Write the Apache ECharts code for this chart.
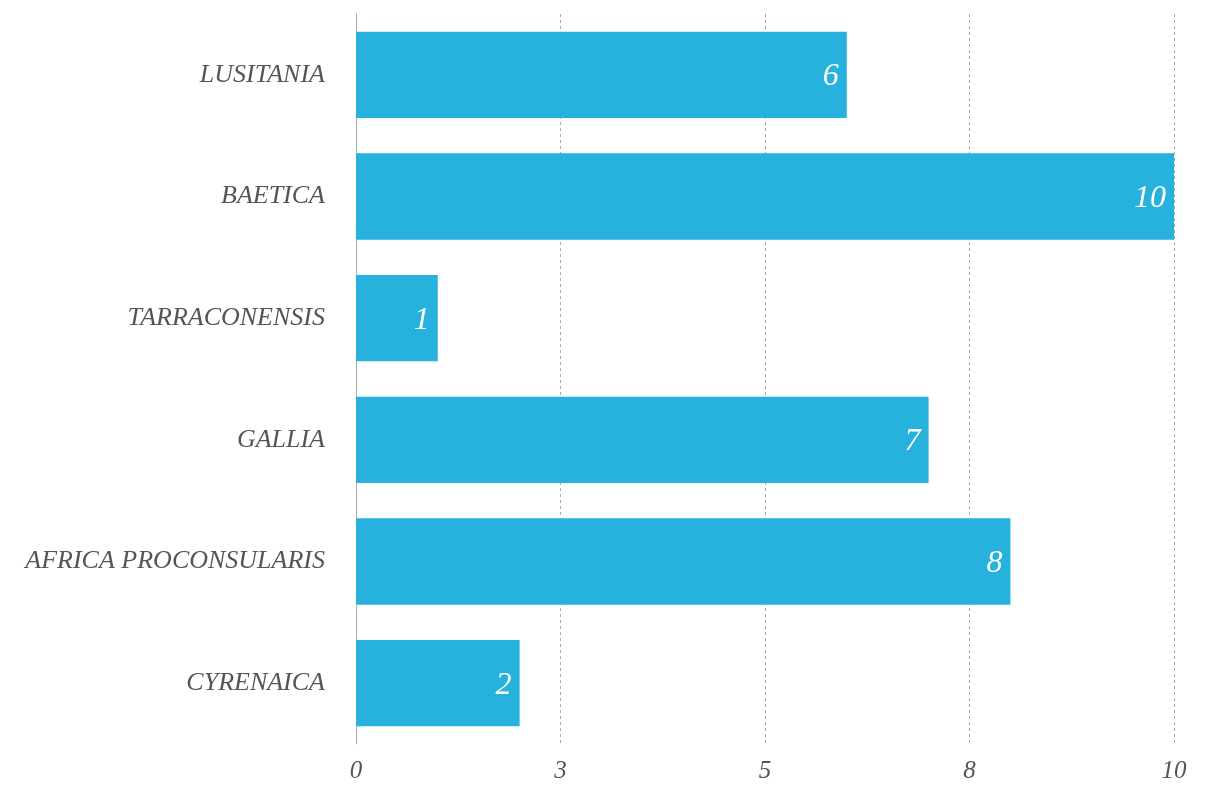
<!DOCTYPE html>
<html>
<head>
<meta charset="utf-8">
<title>Provinces</title>
<script src="https://cdn.jsdelivr.net/npm/echarts@6/dist/echarts.min.js"></script>
<style>
  html, body { margin: 0; padding: 0; background: #ffffff; }
  #chart { width: 1215px; height: 787px; }
</style>
</head>
<body>
<div id="chart"></div>
<script>
// Provinces, top to bottom
const provinces = ['LUSITANIA', 'BAETICA', 'TARRACONENSIS', 'GALLIA', 'AFRICA PROCONSULARIS', 'CYRENAICA'];
const counts = [6, 10, 1, 7, 8, 2];
// Value-axis tick labels (ticks every 2.5, shown rounded)
const tickLabels = ['0', '3', '5', '8', '10'];

const serif = 'Liberation Serif';
const chart = echarts.init(document.getElementById('chart'), null, { renderer: 'canvas' });

chart.setOption({
  backgroundColor: '#ffffff',
  animation: false,
  grid: { left: 356, right: 41, top: 14, bottom: 43, containLabel: false },
  xAxis: {
    type: 'value',
    min: 0,
    max: 10,
    interval: 2.5,
    axisLine: { show: false },
    axisTick: { show: false },
    splitLine: { show: true, lineStyle: { color: '#aaaaaa', type: [3, 3], width: 1 } },
    axisLabel: {
      color: '#555555',
      fontFamily: serif,
      fontStyle: 'italic',
      fontSize: 25,
      margin: 15,
      formatter: (v, i) => tickLabels[i]
    }
  },
  yAxis: {
    type: 'category',
    data: provinces,
    inverse: true,
    axisLine: { show: true, lineStyle: { color: '#aaaaaa', width: 1 } },
    axisTick: { show: false },
    splitLine: { show: false },
    axisLabel: {
      color: '#555555',
      fontFamily: serif,
      fontStyle: 'italic',
      fontSize: 26,
      margin: 31,
      padding: [0, 0, 0, 0]
    }
  },
  series: [{
    type: 'bar',
    data: counts,
    barCategoryGap: '29%',
    itemStyle: { color: '#27b1dd' },
    label: {
      show: true,
      position: 'insideRight',
      distance: 8,
      color: '#ffffff',
      fontFamily: serif,
      fontStyle: 'italic',
      fontSize: 32,
      offset: [0, 2]
    }
  }]
});
</script>
</body>
</html>
